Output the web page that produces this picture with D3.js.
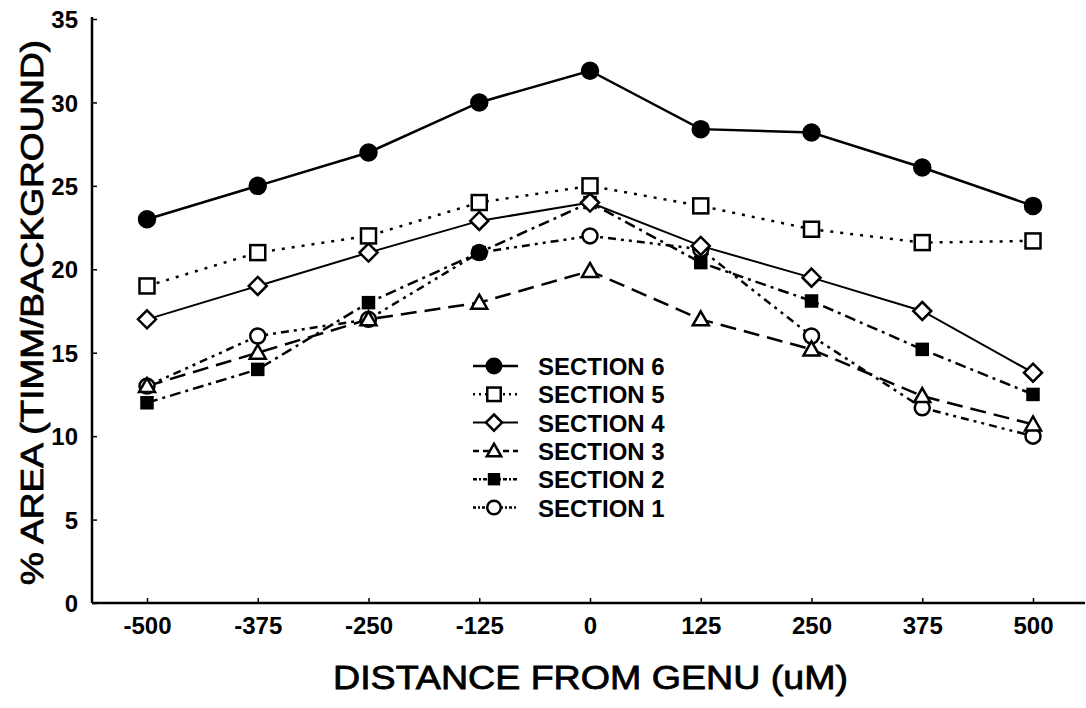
<!DOCTYPE html>
<html>
<head>
<meta charset="utf-8">
<script src="https://cdn.jsdelivr.net/npm/d3@7"></script>
<style>
  body { margin: 0; background: #fff; }
  svg { display: block; font-family: "Liberation Sans", Arial, sans-serif; font-weight: bold; }
</style>
</head>
<body>
<div id="chart"></div>
<script>
// distance from genu (uM)
var distances = [-500, -375, -250, -125, 0, 125, 250, 375, 500];
var yTicks = [0, 5, 10, 15, 20, 25, 30, 35];

// % area values read per section
var section6 = [23, 25, 27, 30, 31.9, 28.4, 28.2, 26.1, 23.8];
var section5 = [19, 21, 22, 24, 25, 23.8, 22.4, 21.6, 21.7];
var section4 = [17, 19, 21, 22.9, 24, 21.4, 19.5, 17.5, 13.8];
var section3 = [13, 15, 17, 18, 19.9, 17, 15.2, 12.4, 10.7];
var section2 = [12, 14, 18, 21, 24, 20.4, 18.1, 15.2, 12.5];
var section1 = [13, 16, 17, 21, 22, 21.2, 16, 11.7, 10];

var seriesNames = ["SECTION 6", "SECTION 5", "SECTION 4", "SECTION 3", "SECTION 2", "SECTION 1"];
var seriesValues = [section6, section5, section4, section3, section2, section1];

// drawing style for each series
var styles = [
  { marker: "circle", fill: "#000", size: 8, dash: null, legendDash: null, width: 2.5 },
  { marker: "square", fill: "#fff", size: 7.5, dash: "3,7", legendDash: "2,4", width: 2.5 },
  { marker: "diamond", fill: "#fff", size: 9, dash: null, legendDash: null, width: 2 },
  { marker: "triangle", fill: "#fff", size: 8, dash: "16,8", legendDash: "6,4", width: 2.5 },
  { marker: "square", fill: "#000", size: 5.5, dash: "11,5,3,5", legendDash: "4,2,2,2", width: 2.5 },
  { marker: "circle", fill: "#fff", size: 7.5, dash: "8,5,3,5,3,5", legendDash: "3,2,2,2", width: 2.5 }
];

var areaWidth = 1086;
var areaHeight = 708;

var svg = d3.select("#chart").append("svg")
  .attr("width", areaWidth)
  .attr("height", areaHeight);

var xScale = d3.scaleLinear().domain([-500, 500]).range([147, 1033]);
var yScale = d3.scaleLinear().domain([0, 35]).range([603, 19]);

// axes, ticks pointing inward; plain hyphen for negatives
var xAxis = d3.axisBottom(xScale).tickValues(distances).tickFormat(function (d) { return String(d); })
  .tickSizeInner(-5).tickSizeOuter(0).tickPadding(14);
var yAxis = d3.axisLeft(yScale).tickValues(yTicks).tickFormat(function (d) { return String(d); })
  .tickSizeInner(-5).tickSizeOuter(0).tickPadding(14);

var gx = svg.append("g").attr("transform", "translate(0," + yScale(0) + ")").call(xAxis);
var gy = svg.append("g").attr("transform", "translate(92,0)").call(yAxis);

gx.select(".domain").remove();
gy.select(".domain").remove();

svg.append("line")
  .attr("x1", 92).attr("x2", 1085)
  .attr("y1", yScale(0)).attr("y2", yScale(0))
  .style("stroke", "#000").style("stroke-width", 2.5);
svg.append("line")
  .attr("x1", 92).attr("x2", 92)
  .attr("y1", yScale(35) - 2).attr("y2", yScale(0))
  .style("stroke", "#000").style("stroke-width", 2.5);

svg.selectAll(".tick line").style("stroke", "#000").style("stroke-width", 1.5);
svg.selectAll(".tick text")
  .style("font-size", "24px")
  .style("font-weight", "bold")
  .style("fill", "#000")
  .style("font-family", "Liberation Sans, Arial, sans-serif");
gx.selectAll(".tick text").attr("dy", "0.71em");
gy.selectAll(".tick text").attr("dy", "0.36em");

// axis titles, regular weight with a light outline like the scan
svg.append("text")
  .text("DISTANCE FROM GENU (uM)")
  .attr("x", 333)
  .attr("y", 689)
  .attr("textLength", 515)
  .attr("lengthAdjust", "spacingAndGlyphs")
  .style("font-size", "33px")
  .style("font-weight", "normal")
  .style("stroke", "#000")
  .style("stroke-width", 0.8)
  .style("fill", "#000");

svg.append("text")
  .text("% AREA (TIMM/BACKGROUND)")
  .attr("transform", "translate(43,585) rotate(-90)")
  .attr("textLength", 545)
  .attr("lengthAdjust", "spacingAndGlyphs")
  .style("font-size", "31px")
  .style("font-weight", "normal")
  .style("stroke", "#000")
  .style("stroke-width", 0.8)
  .style("fill", "#000");

// draws one marker at (x, y)
function drawMarker(g, st, x, y) {
  var s = st.size;
  var m;
  if (st.marker == "circle") {
    m = g.append("circle").attr("cx", x).attr("cy", y).attr("r", s);
  } else if (st.marker == "square") {
    m = g.append("rect").attr("x", x - s).attr("y", y - s).attr("width", 2 * s).attr("height", 2 * s);
  } else if (st.marker == "diamond") {
    m = g.append("path").attr("d", "M" + x + "," + (y - s) + "L" + (x + s) + "," + y + "L" + x + "," + (y + s) + "L" + (x - s) + "," + y + "Z");
  } else {
    m = g.append("path").attr("d", "M" + x + "," + (y - s) + "L" + (x + s) + "," + (y + s * 0.75) + "L" + (x - s) + "," + (y + s * 0.75) + "Z");
  }
  m.style("fill", st.fill).style("stroke", "#000").style("stroke-width", 2.5);
}

var line = d3.line()
  .x(function (d, i) { return xScale(distances[i]); })
  .y(function (d) { return yScale(d); });

// lines first, then markers on top (section 1 drawn first, section 6 last)
for (var k = seriesValues.length - 1; k >= 0; k--) {
  svg.append("path")
    .datum(seriesValues[k])
    .attr("d", line)
    .style("fill", "none")
    .style("stroke", "#000")
    .style("stroke-width", styles[k].width)
    .style("stroke-dasharray", styles[k].dash);
}
for (var k = seriesValues.length - 1; k >= 0; k--) {
  var g = svg.append("g");
  seriesValues[k].forEach(function (v, i) {
    drawMarker(g, styles[k], xScale(distances[i]), yScale(v));
  });
}

// legend
var legend = svg.append("g");
seriesNames.forEach(function (name, i) {
  var cy = 366 + i * 28.3;
  legend.append("line")
    .attr("x1", 473).attr("x2", 518)
    .attr("y1", cy).attr("y2", cy)
    .style("stroke", "#000")
    .style("stroke-width", styles[i].width)
    .style("stroke-dasharray", styles[i].legendDash);
  var st = Object.assign({}, styles[i], { size: styles[i].size * 0.9 });
  drawMarker(legend, st, 494, cy);
  legend.append("text")
    .text(name)
    .attr("x", 538)
    .attr("y", cy + 9)
    .style("font-size", "24px")
    .style("fill", "#000");
});
</script>
</body>
</html>
